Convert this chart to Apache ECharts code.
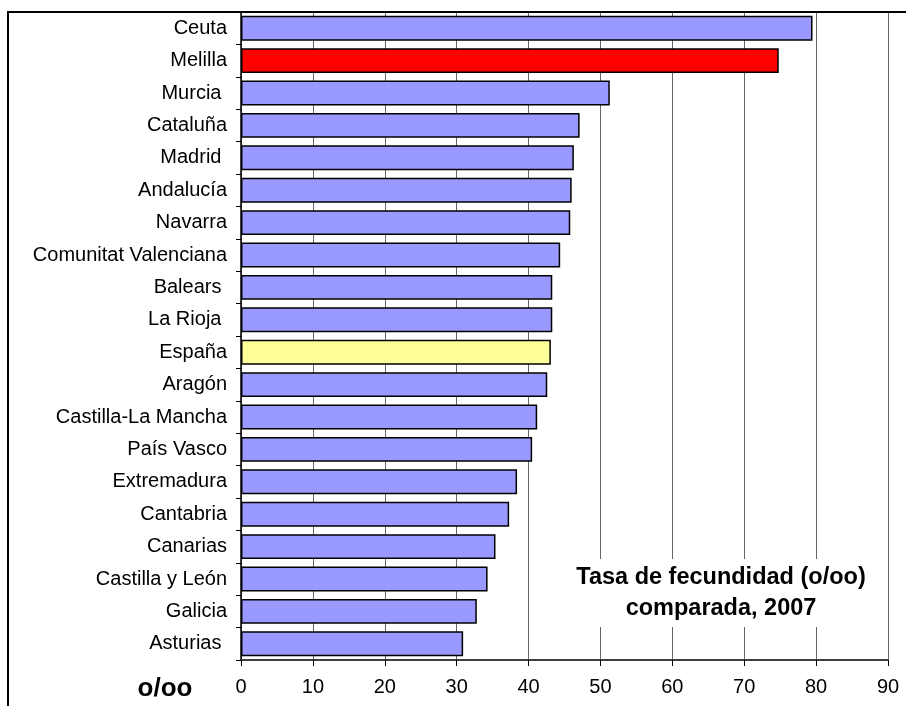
<!DOCTYPE html>
<html>
<head>
    <meta charset="utf-8">
    <title>Tasa de fecundidad</title>
    <script src="https://cdn.jsdelivr.net/npm/echarts@6/dist/echarts.min.js"></script>
    <style>
        html, body { margin: 0; padding: 0; background: #fff; }
    </style>
</head>
<body>
    <div id="main" style="width: 906px;height:706px;"></div>
    <script type="text/javascript">
        // comunidades, de arriba abajo
        var regions = ['Ceuta', 'Melilla', 'Murcia ', 'Cataluña', 'Madrid ', 'Andalucía', 'Navarra',
            'Comunitat Valenciana', 'Balears ', 'La Rioja ', 'España', 'Aragón', 'Castilla-La Mancha',
            'País Vasco', 'Extremadura', 'Cantabria', 'Canarias', 'Castilla y León', 'Galicia', 'Asturias '];
        // tasa de fecundidad (o/oo), 2007
        var rates = [79.5, 74.8, 51.3, 47.1, 46.3, 46.0, 45.8, 44.4, 43.3, 43.3, 43.1, 42.6, 41.2,
            40.5, 38.4, 37.3, 35.4, 34.3, 32.8, 30.9];
        var titleLines = ['Tasa de fecundidad (o/oo)', 'comparada, 2007'];
        var unitLabel = 'o/oo';

        var font = '"Liberation Sans", Arial, sans-serif';

        function barColor(name) {
            if (name === 'Melilla') return '#FF0000';
            if (name === 'España') return '#FFFF99';
            return '#9999FF';
        }

        var myChart = echarts.init(document.getElementById('main'));

        myChart.setOption({
            animation: false,
            backgroundColor: '#fff',
            textStyle: { fontFamily: font },
            grid: { left: 241, right: 18, top: 12, bottom: 46 },
            xAxis: {
                type: 'value',
                min: 0,
                max: 90,
                interval: 10,
                axisLine: { show: true, lineStyle: { color: '#404040', width: 2 } },
                axisTick: { show: true, length: 6, lineStyle: { color: '#000' } },
                axisLabel: { color: '#000', fontSize: 20, margin: 17, fontFamily: font },
                splitLine: { show: true, lineStyle: { color: '#666', width: 1 } }
            },
            yAxis: {
                type: 'category',
                inverse: true,
                data: regions,
                axisLine: { show: true, lineStyle: { color: '#000', width: 1.5 } },
                axisTick: { show: true, length: 5, lineStyle: { color: '#000' } },
                axisLabel: { color: '#000', fontSize: 20, margin: 14, fontFamily: font }
            },
            series: [{
                type: 'bar',
                barCategoryGap: '23%',
                data: rates.map(function (v, i) {
                    return {
                        value: v,
                        itemStyle: { color: barColor(regions[i]) }
                    };
                }),
                itemStyle: { borderColor: '#000', borderWidth: 1.5 }
            }],
            graphic: [
                {
                    // marco exterior
                    type: 'polyline',
                    shape: { points: [[8, 706], [8, 12], [906, 12]] },
                    style: { stroke: '#000', lineWidth: 2, fill: null },
                    z: 10
                },
                {
                    type: 'rect',
                    shape: { x: 548, y: 559, width: 334, height: 68 },
                    style: { fill: '#fff' },
                    z: 5
                },
                {
                    type: 'text',
                    x: 721,
                    y: 593,
                    style: {
                        text: titleLines.join('\n'),
                        fill: '#000',
                        font: 'bold 23.5px ' + font,
                        lineHeight: 31,
                        align: 'center',
                        verticalAlign: 'middle'
                    },
                    z: 6
                },
                {
                    type: 'text',
                    x: 165,
                    y: 689,
                    style: {
                        text: unitLabel,
                        fill: '#000',
                        font: 'bold 26px ' + font,
                        align: 'center',
                        verticalAlign: 'middle'
                    },
                    z: 6
                }
            ]
        });
    </script>
</body>
</html>
